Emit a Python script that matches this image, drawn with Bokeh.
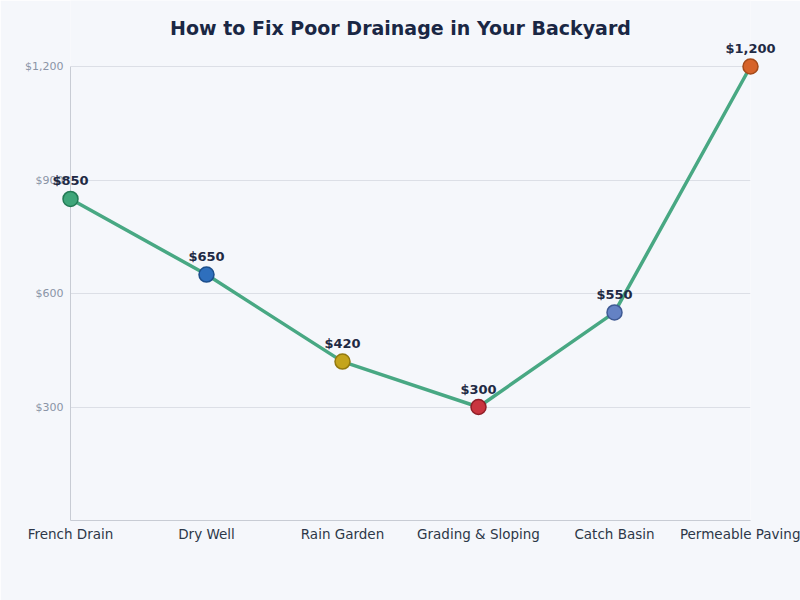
from bokeh.plotting import figure
from bokeh.models import (ColumnDataSource, FixedTicker, Range1d,
                          NumeralTickFormatter, Label)
from bokeh.core.properties import value
from bokeh.embed import file_html
from bokeh.resources import INLINE

# Typical cost of each drainage fix
methods = ["French Drain", "Dry Well", "Rain Garden", "Grading & Sloping",
           "Catch Basin", "Permeable Paving"]
costs = [850, 650, 420, 300, 550, 1200]
fill_colors = ["#3fa67a", "#2e6fbd", "#c4a41c", "#c9353f", "#6482c4", "#d6632a"]
edge_colors = ["#237a55", "#1d4f8c", "#93790f", "#8f1e27", "#3f5a94", "#a44a1a"]
y_ticks = [300, 600, 900, 1200]
y_max = 1200
title_text = "How to Fix Poor Drainage in Your Backyard"

BG = "#f5f7fb"
FONT = "DejaVu Sans"

WIDTH, HEIGHT = 800, 600
BORDER_LEFT, BORDER_RIGHT, BORDER_BOTTOM = 70, 50, 80
AXIS_TOP = 66            # pixel row where the value axis ends
TITLE_Y = 27             # pixel row of the heading's centre

# The frame runs to the top of the canvas so the heading can live inside it;
# the value axis itself stops at y_max.
frame_h = HEIGHT - BORDER_BOTTOM
y_end = y_max * frame_h / (frame_h - AXIS_TOP)

idx = list(range(len(methods)))
src = ColumnDataSource(dict(
    x=idx, y=costs, fill=fill_colors, edge=edge_colors,
    label=["${:,}".format(c) for c in costs],
))

p = figure(width=WIDTH, height=HEIGHT, output_backend="svg",
           toolbar_location=None,
           x_range=Range1d(0, len(methods) - 1), y_range=Range1d(0, y_end),
           min_border_left=BORDER_LEFT, min_border_right=BORDER_RIGHT,
           min_border_top=0, min_border_bottom=BORDER_BOTTOM,
           background_fill_color=BG, border_fill_color=BG,
           outline_line_color=None)

# chart heading (screen units measured from the frame's lower-left corner)
p.add_layout(Label(x=WIDTH / 2 - BORDER_LEFT, y=frame_h - TITLE_Y,
                   x_units="screen", y_units="screen",
                   text=title_text, text_align="center",
                   text_baseline="middle", text_font=FONT,
                   text_font_size="19px", text_font_style="bold",
                   text_color="#1a2744", level="overlay"))

# x axis: one tick per method
p.xaxis.ticker = FixedTicker(ticks=idx)
p.xaxis.major_label_overrides = {i: m for i, m in enumerate(methods)}
p.xaxis.major_label_text_font = FONT
p.xaxis.major_label_text_font_size = "13.5px"
p.xaxis.major_label_text_color = "#2d3748"
p.xaxis.axis_line_color = "#c8ccd4"
p.xaxis.major_tick_line_color = None
p.xaxis.minor_tick_line_color = None
p.xaxis.major_tick_out = 0
p.xaxis.major_label_standoff = 5

# y axis: dollar ticks, line limited to the data span
p.yaxis.ticker = FixedTicker(ticks=y_ticks)
p.yaxis.formatter = NumeralTickFormatter(format="$0,0")
p.yaxis.bounds = (0, y_max)
p.yaxis.major_label_text_font = FONT
p.yaxis.major_label_text_font_size = "11px"
p.yaxis.major_label_text_color = "#8a94a6"
p.yaxis.axis_line_color = "#c8ccd4"
p.yaxis.major_tick_line_color = None
p.yaxis.minor_tick_line_color = None
p.yaxis.major_tick_out = 0
p.yaxis.major_label_standoff = 7

p.xgrid.grid_line_color = None
p.ygrid.grid_line_color = "#dcdfe6"
p.ygrid.grid_line_width = 1

# line, markers and value labels drawn above the frame clip so edge points stay whole
p.line("x", "y", source=src, line_color="#48a883", line_width=3.5,
       level="annotation")
p.scatter("x", "y", source=src, size=15, fill_color="fill",
          line_color="edge", line_width=1.5, level="annotation")
p.text("x", "y", text="label", source=src, y_offset=-18,
       text_align="center", text_baseline="alphabetic",
       text_font=value(FONT), text_font_size="13px",
       text_font_style="bold", text_color="#1f2a44", level="overlay")

open("out.html", "w").write(file_html(p, INLINE))
